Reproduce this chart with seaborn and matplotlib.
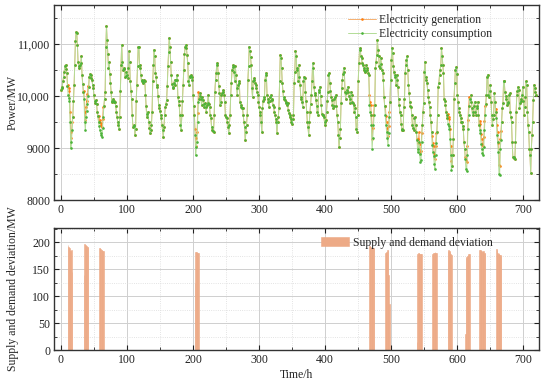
import numpy as np
import pandas as pd
import matplotlib
matplotlib.use("Agg")
import matplotlib.pyplot as plt
from matplotlib.ticker import MultipleLocator, FuncFormatter
import seaborn as sns

# Hourly electricity consumption (MW), one row per day
consumption_by_day = [
    [10120, 10150, 10180, 10280, 10370, 10460, 10580, 10600, 10520, 10440, 10200, 10020, 9960, 9900, 9500, 9000, 9120, 9350, 9600, 9900, 10210, 10600, 11050, 11230],
    [11210, 10980, 10650, 10570, 10540, 10590, 10630, 10760, 10400, 10230, 10080, 9950, 9500, 9340, 9600, 9720, 9850, 10000, 10180, 10370, 10420, 10400, 10350, 10310],
    [10220, 10150, 10010, 9900, 9870, 9920, 9850, 9700, 9620, 9500, 9420, 9340, 9290, 9250, 9210, 9380, 9600, 9800, 9950, 10080, 10950, 11340, 11080, 10800],
    [10540, 10660, 10420, 10250, 10080, 9880, 9910, 9940, 9900, 9880, 9890, 9800, 9700, 9600, 9500, 9450, 9370, 9600, 10100, 10600, 10990, 10660, 10500, 10520],
    [10540, 10370, 10380, 10470, 10400, 10340, 10540, 10860, 10660, 10280, 10100, 9950, 9630, 9400, 9420, 9440, 9250, 9370, 9900, 10210, 10570, 10940, 10950, 10600],
    [10540, 10400, 10280, 10310, 10250, 10270, 10310, 10280, 10020, 9800, 9600, 9650, 9700, 9500, 9380, 9280, 9350, 9440, 9700, 10280, 10600, 10890, 10760, 10450],
    [10370, 10210, 10180, 10000, 9830, 9760, 9710, 9630, 9570, 9450, 9340, 9210, 9400, 9630, 9780, 9850, 9920, 10200, 10570, 10850, 11120, 10950, 10660, 10400],
    [10240, 10180, 10150, 10250, 10310, 10210, 10300, 10310, 10400, 9990, 9900, 9830, 9630, 9450, 9340, 9630, 9900, 10210, 10500, 10800, 10950, 10990, 10920, 10780],
    [10630, 10280, 10210, 10370, 10380, 10400, 10310, 10370, 10020, 9800, 9630, 9250, 8860, 9020, 9120, 9500, 9890, 9950, 10050, 10000, 9950, 9830, 9990, 9920],
    [9850, 9790, 9860, 9780, 9700, 9830, 9860, 10020, 9850, 9790, 9630, 9570, 9410, 9340, 9320, 9310, 9630, 10080, 10300, 10440, 10630, 10600, 10440, 10200],
    [10050, 9830, 9890, 10020, 10050, 10080, 10120, 10020, 9890, 9630, 9600, 9570, 9500, 9410, 9280, 9450, 9630, 10020, 10250, 10500, 10550, 10600, 10470, 10280],
    [10570, 10400, 10150, 10020, 10210, 10250, 10280, 9890, 9830, 9790, 9770, 9760, 9630, 9500, 9400, 9150, 9310, 9450, 9630, 10310, 10570, 10950, 10860, 10750],
    [10600, 10150, 9990, 10280, 10310, 10340, 10250, 10210, 10150, 10080, 10020, 9890, 9790, 9700, 9630, 9500, 9310, 9760, 9900, 9990, 9950, 10310, 10440, 10400],
    [10020, 9950, 9890, 9790, 9900, 9990, 10020, 9950, 9920, 9830, 9790, 9700, 9630, 9550, 9500, 9280, 9500, 9600, 9760, 10280, 10790, 10730, 10540, 10250],
    [10100, 9950, 9990, 9920, 9890, 9860, 9830, 9860, 9730, 9680, 9630, 9600, 9550, 9500, 9470, 9550, 9630, 10250, 10470, 10860, 10760, 10540, 10500, 10280],
    [10600, 10370, 10210, 9990, 9950, 9890, 9790, 10280, 10370, 10340, 10080, 9900, 9700, 9500, 9400, 9250, 9500, 9700, 9850, 10020, 10280, 10630, 10540, 10180],
    [10050, 10020, 9920, 9800, 9700, 9630, 10080, 10120, 10180, 10000, 9830, 9660, 9640, 9630, 9600, 9500, 9440, 9540, 9700, 9900, 10080, 10400, 10440, 10250],
    [10100, 9990, 9920, 9830, 9760, 9800, 9950, 9990, 10020, 9800, 9630, 9500, 9250, 9020, 9200, 9370, 9860, 10150, 10310, 10420, 10540, 10470, 10080, 9950],
    [10050, 10120, 10180, 10080, 10000, 9950, 9860, 10080, 10020, 9890, 9860, 9830, 9700, 9760, 9600, 9370, 9310, 9630, 10280, 10630, 10890, 10920, 10760, 10730],
    [10630, 10600, 10540, 10500, 10470, 10480, 10600, 10540, 10500, 10450, 10400, 9830, 9700, 9630, 9440, 8990, 9200, 9440, 9630, 9830, 10540, 10660, 10790, 11080],
    [10890, 10760, 10570, 10540, 10730, 10620, 10500, 10440, 10310, 9990, 9800, 9630, 9440, 9310, 9200, 9050, 9280, 9600, 9890, 10310, 10700, 10920, 10830, 10570],
    [10470, 10370, 10400, 10210, 10300, 10400, 10180, 9950, 9830, 9700, 9630, 9470, 9370, 9350, 9340, 9790, 9950, 10440, 10600, 10700, 10760, 10500, 10210, 10050],
    [9890, 9800, 9790, 9630, 9440, 9390, 9340, 9570, 9600, 9440, 9300, 9150, 8920, 8990, 9120, 8890, 8730, 8760, 9120, 9440, 9700, 9860, 10470, 10660],
    [10370, 10300, 10250, 10120, 9990, 9880, 9790, 9630, 9500, 9310, 9050, 8920, 8850, 8700, 8600, 8860, 9100, 9310, 9630, 10180, 10250, 10400, 10500, 10600],
    [10920, 10760, 10600, 10440, 9950, 9900, 9830, 9700, 9630, 9570, 9470, 9420, 9370, 9180, 8860, 8580, 8660, 8860, 9180, 9950, 10250, 10500, 10550, 10420],
    [10020, 9880, 9760, 9690, 9630, 9570, 9500, 9500, 9420, 9370, 9120, 8990, 8790, 8600, 8550, 8860, 9370, 9630, 9800, 9950, 9890, 10020, 9760, 9630],
    [9700, 9800, 9890, 9700, 9630, 9760, 9800, 9890, 9630, 9450, 9340, 9280, 9080, 8990, 8900, 8860, 9020, 9340, 9630, 9850, 10020, 10370, 10410, 10020],
    [9990, 10100, 10210, 9890, 9630, 9440, 9550, 9630, 10050, 9890, 9700, 9570, 9250, 9120, 8920, 8500, 8480, 8990, 9150, 9500, 9760, 9860, 10280, 10280],
    [10080, 10000, 9950, 9830, 9860, 9890, 10020, 10050, 9700, 9600, 9500, 9120, 8830, 8830, 8800, 8790, 9120, 9700, 10020, 10100, 10180, 10120, 9760, 9860],
    [9900, 9950, 10020, 10180, 9900, 9630, 9790, 9990, 10280, 10210, 9700, 9440, 9310, 8990, 8860, 8520, 8990, 9250, 9500, 9920, 10210, 10150, 10080, 10020],
]

# Supply and demand deviation (MW): first hour of each episode and its values
dev_start = [11, 35, 58, 203, 467, 491, 539, 562, 586, 612, 634, 659]
dev_values = [
    [195, 192, 190, 186, 184, 185, 145],
    [140, 196, 195, 194, 193, 192, 191],
    [190, 190, 188, 186, 185, 184, 183],
    [125, 182, 182, 181, 180, 180],
    [193, 193, 191, 190, 190, 190, 189, 190],
    [180, 180, 182, 185, 186, 140, 85],
    [15, 179, 180, 180, 179, 179, 179, 178],
    [178, 179, 181, 181, 182, 181, 180],
    [183, 185, 184, 182, 178, 176],
    [30, 170, 172, 175, 177, 178, 178],
    [186, 185, 184, 183, 182, 184, 183, 181, 180],
    [188, 186, 180, 178, 180, 177, 176, 175],
]

consumption = np.concatenate([np.array(d, dtype=float) for d in consumption_by_day])
hours = np.arange(len(consumption))
deviation = np.zeros(len(consumption))
for s, vals in zip(dev_start, dev_values):
    deviation[s:s + len(vals)] = vals
generation = consumption + deviation

df = pd.DataFrame({"hour": hours, "generation": generation,
                   "consumption": consumption, "deviation": deviation})

sns.set_theme(style="ticks")
plt.rcParams["font.family"] = ["Liberation Serif", "DejaVu Serif"]
plt.rcParams["font.size"] = 8

fig = plt.figure(figsize=(5.5, 3.88), dpi=100)
ax1 = fig.add_axes([0.0987, 0.4845, 0.8818, 0.5026])
ax2 = fig.add_axes([0.0987, 0.0972, 0.8818, 0.316])

sns.lineplot(data=df, x="hour", y="generation", ax=ax1, color="#F5B070",
             linewidth=0.7, marker="o", markersize=1.9, markerfacecolor="#FF7F0E",
             markeredgecolor="#FF7F0E", markeredgewidth=0, label="Electricity generation")
sns.lineplot(data=df, x="hour", y="consumption", ax=ax1, color="#B2DC96",
             linewidth=0.7, marker="o", markersize=1.9, markerfacecolor="#4BB33A",
             markeredgecolor="#4BB33A", markeredgewidth=0, label="Electricity consumption")

ax2.bar(df["hour"], df["deviation"], width=1.0, color="#EDAA86",
        edgecolor="#EDAA86", linewidth=0.4, label="Supply and demand deviation")

ax1.set_xlim(-10, 724)
ax2.set_xlim(-10, 724)
ax1.set_ylim(8000, 11750)
ax2.set_ylim(0, 227)

ax1.yaxis.set_major_locator(MultipleLocator(1000))
ax1.yaxis.set_minor_locator(MultipleLocator(500))
ax1.yaxis.set_major_formatter(FuncFormatter(
    lambda v, p: f"{int(v):,}" if v >= 10000 else f"{int(v)}"))
ax2.yaxis.set_major_locator(MultipleLocator(50))
ax2.yaxis.set_minor_locator(MultipleLocator(25))
for ax in (ax1, ax2):
    ax.xaxis.set_major_locator(MultipleLocator(100))
    ax.xaxis.set_minor_locator(MultipleLocator(50))
    ax.grid(True, which="major", color="#CFCFCF", linewidth=0.7, linestyle="-")
    ax.grid(True, which="minor", color="#DADADA", linewidth=0.6, linestyle=":")
    ax.set_axisbelow(True)
    ax.tick_params(which="both", direction="in", top=True, right=True,
                   labelsize=8.5, colors="#222222", pad=3)
    ax.tick_params(which="major", length=3.5, width=0.8)
    ax.tick_params(which="minor", length=2, width=0.6)
    for sp in ax.spines.values():
        sp.set_color("#333333")
        sp.set_linewidth(1.0)

ax1.set_xlabel("")
ax1.set_ylabel("Power/MW", fontsize=8.5)
ax2.set_xlabel("Time/h", fontsize=8.5, labelpad=2)
ax2.set_ylabel("Supply and demand deviation/MW", fontsize=8.5)
ax1.yaxis.set_label_coords(-0.073, 0.5)
ax2.yaxis.set_label_coords(-0.073, 0.5)

ax1.legend(loc="upper left", bbox_to_anchor=(0.59, 0.99), frameon=False,
           fontsize=8.5, handlelength=2.4, handletextpad=0.3, labelspacing=0.15,
           borderaxespad=0.2)
ax2.legend(loc="upper left", bbox_to_anchor=(0.535, 0.985), frameon=False,
           fontsize=8.5, handlelength=2.4, handleheight=0.9, handletextpad=0.3,
           borderaxespad=0.2)

fig.savefig("out.png", dpi=100)
